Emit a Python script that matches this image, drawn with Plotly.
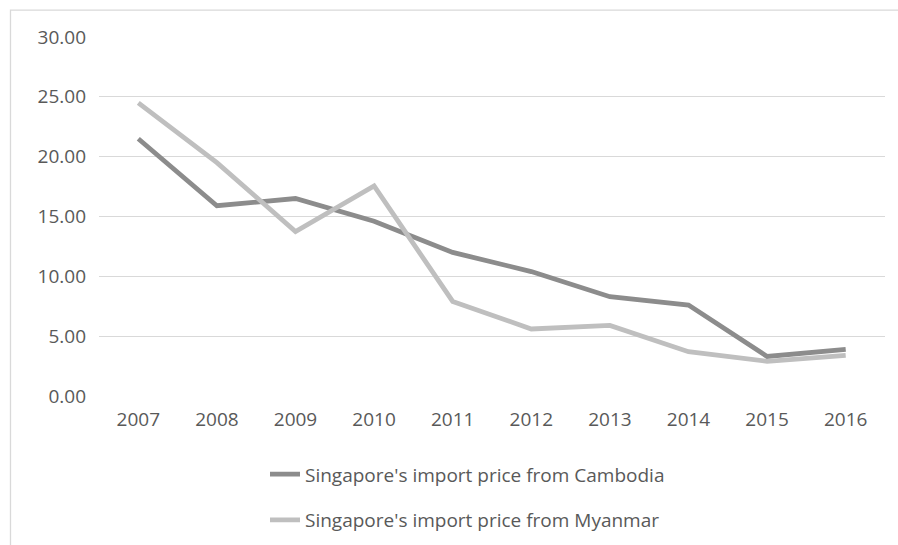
import plotly.graph_objects as go

years = ["2007", "2008", "2009", "2010", "2011", "2012", "2013", "2014", "2015", "2016"]
cambodia = [21.5, 15.9, 16.5, 14.6, 12.0, 10.4, 8.3, 7.6, 3.3, 3.9]
myanmar = [24.5, 19.5, 13.75, 17.55, 7.9, 5.6, 5.9, 3.7, 2.9, 3.4]
y_ticks = [0, 5, 10, 15, 20, 25, 30]
y_labels = ["0.00", "5.00", "10.00", "15.00", "20.00", "25.00", "30.00"]

font_family = "Open Sans, Liberation Sans, sans-serif"
FS = 19

fig = go.Figure()
fig.add_trace(go.Scatter(
    x=years, y=cambodia, mode="lines",
    name="Singapore's import price from Cambodia",
    line=dict(color="#8c8c8c", width=4.8),
    legendgroup="a",
))
fig.add_trace(go.Scatter(
    x=years, y=myanmar, mode="lines",
    name="Singapore's import price from Myanmar",
    line=dict(color="#bfbfbf", width=4.8),
    legendgroup="b",
))

fig.update_layout(
    width=898, height=545, autosize=False,
    margin=dict(l=99, r=13, t=36.5, b=148.5, autoexpand=False),
    paper_bgcolor="white", plot_bgcolor="white",
    font=dict(family=font_family, size=FS, color="#595959"),
    showlegend=True,
    legend=dict(
        orientation="v", x=(265 - 99) / 786, xanchor="left", y=-(456 - 396.5) / 360, yanchor="top",
        font=dict(size=FS, color="#595959"),
        tracegroupgap=18, bgcolor="rgba(0,0,0,0)", itemwidth=30,
    ),
    xaxis=dict(
        type="category", range=[-0.5, 9.5], showgrid=False, zeroline=False, showline=False,
        ticks="", tickfont=dict(size=FS, color="#595959"), automargin=False,
    ),
    yaxis=dict(
        range=[0, 30], tickvals=y_ticks, ticktext=y_labels,
        showgrid=True, gridcolor="#d9d9d9", gridwidth=1.3,
        zeroline=False, showline=False, ticks="",
        tickfont=dict(size=FS, color="#595959"), automargin=False,
    ),
    shapes=[dict(
        type="rect", xref="paper", yref="paper",
        x0=(10.5 - 99) / 786, x1=1.2, y0=-1.0, y1=1 + (36.5 - 9.5) / 360,
        line=dict(color="#d9d9d9", width=1.3), fillcolor="rgba(0,0,0,0)", layer="below",
    )],
)
fig.update_yaxes(ticklabelstandoff=12)
fig.update_xaxes(ticklabelstandoff=10)

post = (
    "document.body.style.margin='0';"
    "document.body.style.padding='0';"
    "document.documentElement.style.overflow='hidden';"
    "document.body.style.overflow='hidden';"
)
fig.write_html("out.html", post_script=post, config={"displayModeBar": False})
